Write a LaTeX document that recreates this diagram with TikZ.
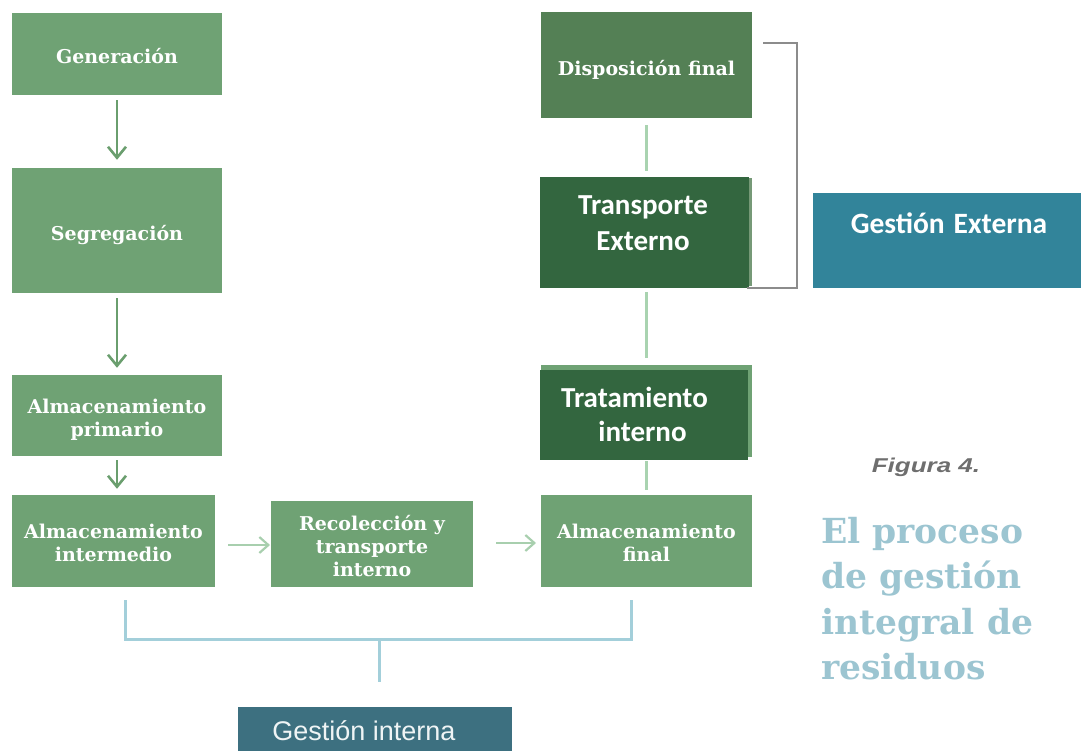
\documentclass[tikz,border=0pt]{standalone}
\usepackage{fontspec}
\setmainfont{DejaVu Serif}
\newfontfamily\slabfont{DejaVu Serif}
\newfontfamily\calfont{Carlito}
\newfontfamily\arialfont{Liberation Sans}
\usetikzlibrary{arrows.meta}
\definecolor{boxg}{HTML}{6FA274}
\definecolor{dispg}{HTML}{548055}
\definecolor{darkg}{HTML}{33663F}
\definecolor{arrg}{HTML}{6A9E6E}
\definecolor{lightarr}{HTML}{A8CFAE}
\definecolor{lightln}{HTML}{A9D3B0}
\definecolor{bluebr}{HTML}{A3CFDA}
\definecolor{gext}{HTML}{32849A}
\definecolor{gint}{HTML}{3D7080}
\definecolor{titblue}{HTML}{9CC5D1}
\definecolor{figgray}{HTML}{6E6E6E}
\definecolor{brgray}{HTML}{8C8C8C}
\newcommand\blabel[2][9pt]{\raisebox{0pt}[\dimexpr\height+#1\relax][\depth]{\begin{tabular}{@{}c@{}}#2\end{tabular}}}
\tikzset{
  gbox/.style={fill=boxg, draw=none, text=white, align=center, font=\slabfont\bfseries\fontsize{19}{23}\selectfont, inner sep=0pt},
  dbox/.style={fill=darkg, draw=none, inner sep=0pt},
  dtext/.style={text=white, inner sep=0pt},
  garrow/.style={draw=arrg, line width=2.6pt, -{Straight Barb[length=11pt,width=18pt,line width=2.6pt]}},
  larrow/.style={draw=lightarr, line width=2.2pt, -{Straight Barb[length=9pt,width=16pt,line width=2.2pt]}},
  lline/.style={draw=lightln, line width=2.5pt},
  bline/.style={draw=bluebr, line width=3pt},
}
\begin{document}
\begin{tikzpicture}[x=1pt,y=-1pt]
\useasboundingbox (0,0) rectangle (1081,751);
% left column
\node[gbox, minimum width=210pt, minimum height=82pt] (gen) at (117,54) {\blabel{Generación}};
\node[gbox, minimum width=210pt, minimum height=125pt] (seg) at (117,230.5) {\blabel[10pt]{Segregación}};
\node[gbox, minimum width=210pt, minimum height=81pt] (prim) at (117,415.5) {\blabel[10pt]{Almacenamiento\\primario}};
\node[gbox, minimum width=203pt, minimum height=92pt] (inter) at (113.5,541) {\blabel{Almacenamiento\\intermedio}};
\node[gbox, minimum width=202pt, minimum height=86pt] (reco) at (372,544) {\blabel[10pt]{Recolección y\\transporte\\interno}};
\node[gbox, minimum width=211pt, minimum height=92pt] (fin) at (646.5,541) {\blabel{Almacenamiento\\final}};
% right column
\node[gbox, fill=dispg, minimum width=211pt, minimum height=106pt] (disp) at (646.5,65) {\blabel[12pt]{Disposición final}};
\node[fill=dispg!80!white, minimum width=211pt, minimum height=108pt, inner sep=0pt] (tback) at (646.5,232) {};
\node[dbox, minimum width=209pt, minimum height=111pt] (trans) at (644.5,232.5) {};
\node[dtext, font=\calfont\bfseries\fontsize{29}{36}\selectfont] (transt) at (643,225.8) {\begin{tabular}{@{}c@{}}Transporte\\Externo\end{tabular}};
\node[fill=boxg, minimum width=211pt, minimum height=92pt, inner sep=0pt] (tiback) at (646.5,410.5) {};
\node[dbox, minimum width=208pt, minimum height=90pt] (trat) at (644,415) {};
\node[dtext, font=\calfont\bfseries\fontsize{29}{34}\selectfont] (tratt) at (642.5,417.2) {\begin{tabular}{@{}c@{}}Tratamiento\hspace*{16pt}\\interno\end{tabular}};
% gestion boxes
\node[fill=gext, minimum width=268pt, minimum height=95pt, inner sep=0pt, anchor=north west] (gext) at (813,193) {};
\node[text=white, font=\calfont\bfseries\fontsize{29.5}{32}\selectfont, anchor=center, inner sep=0pt] (gextt) at (949,223) {Gestión\hspace{0.3em}Externa};
\node[fill=gint, minimum width=274pt, minimum height=44pt, inner sep=0pt, anchor=north west] (gint) at (238,707) {};
\node[text=white!92!gint, font=\arialfont\fontsize{27}{30}\selectfont, inner sep=0pt] (gintt) at (364,731) {Gestión interna};
% arrows left column
\draw[garrow] ([yshift=-5pt]gen.south) -- ([yshift=8pt]seg.north);
\draw[garrow] ([yshift=-5pt]seg.south) -- ([yshift=7pt]prim.north);
\draw[garrow] ([yshift=-4pt]prim.south) -- ([yshift=6pt]prim.south |- inter.north);
\coordinate (h1s) at (228,545);
\coordinate (h1e) at (270,545);
\coordinate (h2s) at (496,543);
\coordinate (h2e) at (536,543);
\draw[larrow] (h1s) -- (h1e);
\draw[larrow] (h2s) -- (h2e);
% right column lines
\draw[lline] ([yshift=-7pt]disp.south) -- ([yshift=6pt]disp.south |- trans.north);
\draw[lline] ([yshift=-4pt]disp.south |- trans.south) -- ([yshift=6pt]disp.south |- tiback.north);
\draw[lline] ([yshift=-1pt]disp.south |- trat.south) -- ([yshift=5pt]disp.south |- fin.north);
% gray bracket
\coordinate (b1) at (763,43);
\coordinate (b2) at (797,43);
\coordinate (b3) at (797,288);
\coordinate (b4) at (747,288);
\draw[brgray, line width=1.5pt] (b1) -- (b2) -- (b3) -- (b4);
% blue bracket
\coordinate (c1) at (125,600);
\coordinate (c2) at (125,639);
\coordinate (c3) at (631,639);
\coordinate (c4) at (631,600);
\coordinate (c5) at (379,639);
\coordinate (c6) at (379,682);
\draw[bline] (c1) -- (c2) -- (c3) -- (c4);
\draw[bline] (c5) -- (c6);
% captions
\node[font=\arialfont\bfseries\itshape\fontsize{20}{24}\selectfont, text=figgray] (fig) at (926,467) {\scalebox{1.3}[1]{Figura 4.}};
\node[anchor=north west, align=left, text=titblue, font=\slabfont\bfseries\fontsize{34.5}{45.5}\selectfont, inner sep=0pt] (title) at (821,517) {El proceso\\de gestión\\integral de\\residuos};
\end{tikzpicture}
\end{document}
